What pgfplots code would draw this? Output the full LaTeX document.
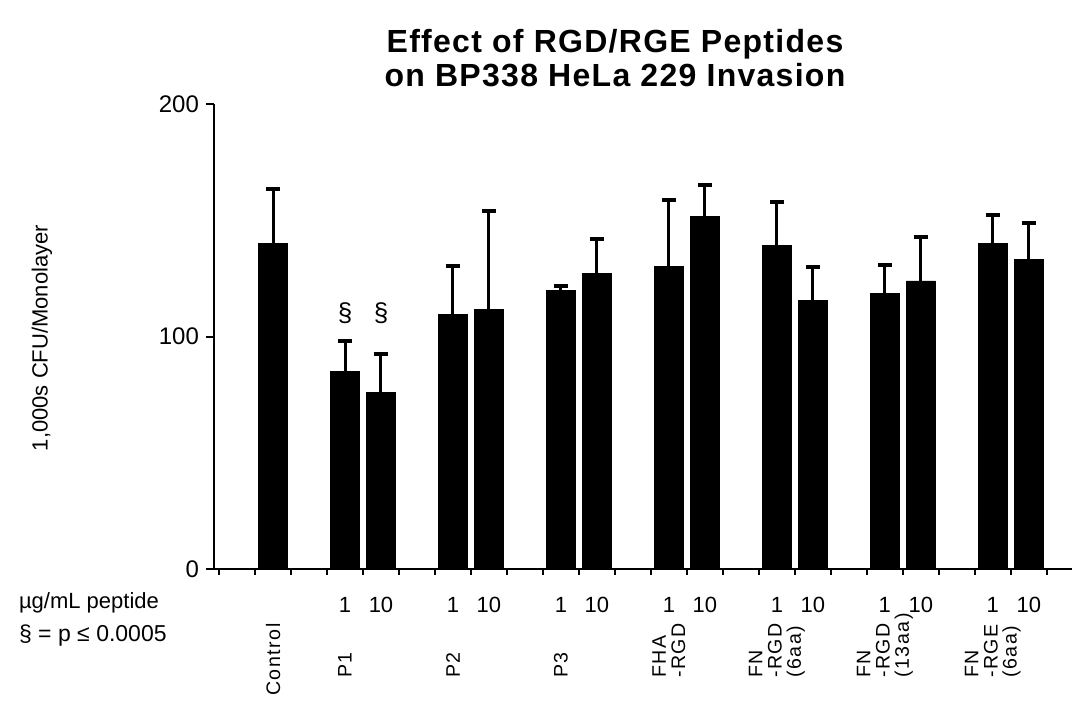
\documentclass[border=0pt]{standalone}
\usepackage{pgfplots}
\pgfplotsset{compat=1.18}
\usepackage{fontspec}
\setmainfont{Liberation Sans}
\newfontfamily\titlefont[LetterSpace=4]{Liberation Sans}
\newfontfamily\catfont[LetterSpace=8]{Liberation Sans}
\pgfplotstableread{
x y e
0 140 23.5
2 85 13.2
3 75.8 16.7
5 109.5 20.8
6 111.7 42.3
8 120 1.8
9 127.3 14.7
11 130 28.7
12 151.8 13.4
14 139 18.8
15 115.7 14.2
17 118.7 12.1
18 123.9 18.9
20 140.2 12.1
21 133.3 15.5
}\datatable
\begin{document}
\begin{tikzpicture}
\begin{axis}[
  at={(0,0)}, anchor=south west,
  scale only axis, width=429pt, height=232.5pt,
  xmin=-1.64, xmax=22.2, ymin=0, ymax=200,
  axis x line*=bottom, axis y line*=left,
  axis line style={line width=1.2pt},
  xtick={2,3,5,6,8,9,11,12,14,15,17,18,20,21},
  xticklabels={1,10,1,10,1,10,1,10,1,10,1,10,1,10},
  major x tick style={draw=none},
  minor xtick={-1.5,-0.5,...,21.5},
  minor tick length=3pt,
  ytick={0,100,200},
  tick align=outside,
  major tick length=4pt,
  tick style={line width=1pt, black},
  xticklabel style={font=\fontsize{11}{11}\selectfont, yshift=-6.5pt},
  yticklabel style={font=\fontsize{12}{12}\selectfont},
  /pgf/number format/assume math mode=true,
  clip=false,
]
\addplot[ybar, bar width=14.5pt, fill=black, draw=black,
  error bars/.cd, y dir=plus, y explicit,
  error bar style={line width=1.5pt, black},
  error mark options={rotate=90, mark size=3.5pt, line width=2pt, black}]
  table[x=x, y=y, y error=e] {\datatable};
\node[font=\fontsize{13}{13}\selectfont] at (axis cs:2,110) {§};
\node[font=\fontsize{13}{13}\selectfont] at (axis cs:3,110) {§};
\begin{scope}[every node/.style={rotate=90, anchor=west, align=left, font=\catfont\fontsize{9.8}{9.6}\selectfont}]
\node at ([yshift=-67pt]axis cs:0,0) {Control};
\node at ([yshift=-58pt]axis cs:2,0) {P1};
\node at ([yshift=-58pt]axis cs:5,0) {P2};
\node at ([yshift=-58pt]axis cs:8,0) {P3};
\node at ([yshift=-58pt]axis cs:11,0) {FHA\\-RGD};
\node at ([yshift=-58pt]axis cs:14,0) {FN\\-RGD\\(6aa)};
\node at ([yshift=-58pt]axis cs:17,0) {FN\\-RGD\\(13aa)};
\node at ([yshift=-58pt]axis cs:20,0) {FN\\-RGE\\(6aa)};
\end{scope}
\end{axis}
\node[anchor=west, font=\fontsize{11}{11}\selectfont] at (-101pt,-17pt) {µg/mL peptide};
\node[anchor=west, font=\fontsize{11.5}{11.5}\selectfont] at (-101pt,-33.5pt) {§ = p ≤ 0.0005};
\node[rotate=90, font=\fontsize{11}{11}\selectfont] at (-86pt,115.5pt) {1,000s CFU/Monolayer};
\node[align=center, font=\titlefont\fontsize{16}{17}\bfseries] at (200.5pt,255.5pt) {Effect of RGD/RGE Peptides\\on BP338 HeLa 229 Invasion};
\pgfresetboundingbox
\path[use as bounding box] (-107pt,-72.5pt) rectangle (429.5pt,284.5pt);
\end{tikzpicture}
\end{document}
